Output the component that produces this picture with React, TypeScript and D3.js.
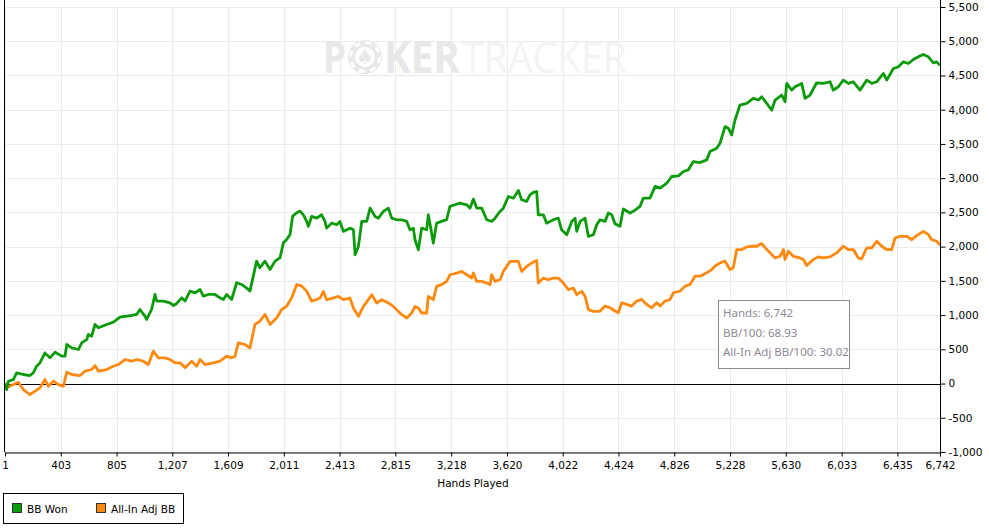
import React, { useEffect, useRef } from "react";
import * as d3 from "d3";

// axis tick values
const handTicks = [1, 403, 805, 1207, 1609, 2011, 2413, 2815, 3218, 3620, 4022, 4424, 4826, 5228, 5630, 6033, 6435, 6742];
const bbTicks = [-1000, -500, 0, 500, 1000, 1500, 2000, 2500, 3000, 3500, 4000, 4500, 5000, 5500];

// BB Won series
const bbWonHands = [
  1, 13, 25, 61, 85, 133, 181, 205, 229, 253, 289, 325, 362, 410, 434, 446, 482, 530, 554, 590,
  602, 626, 650, 674, 734, 782, 830, 878, 914, 950, 974, 1010, 1022, 1058, 1082, 1095, 1143, 1191, 1215, 1239,
  1275, 1299, 1335, 1371, 1407, 1431, 1467, 1515, 1551, 1575, 1599, 1635, 1671, 1707, 1755, 1767, 1791, 1815, 1839, 1875,
  1912, 1948, 1984, 2008, 2032, 2056, 2075, 2104, 2128, 2152, 2176, 2188, 2212, 2248, 2284, 2308, 2320, 2356, 2392, 2416,
  2440, 2488, 2513, 2525, 2549, 2573, 2609, 2633, 2669, 2693, 2729, 2765, 2789, 2825, 2861, 2897, 2921, 2945, 2957, 2981,
  3005, 3041, 3053, 3077, 3089, 3113, 3149, 3185, 3209, 3245, 3281, 3330, 3354, 3378, 3402, 3438, 3474, 3510, 3534, 3570,
  3594, 3630, 3666, 3702, 3726, 3762, 3786, 3810, 3834, 3846, 3882, 3906, 3954, 3990, 4014, 4051, 4087, 4111, 4123, 4147,
  4183, 4207, 4243, 4267, 4291, 4327, 4351, 4375, 4399, 4435, 4459, 4507, 4531, 4579, 4603, 4651, 4688, 4724, 4772, 4808,
  4856, 4892, 4928, 4964, 5012, 5060, 5084, 5132, 5156, 5192, 5216, 5240, 5264, 5300, 5348, 5396, 5433, 5457, 5493, 5529,
  5553, 5601, 5625, 5637, 5673, 5697, 5745, 5769, 5805, 5853, 5901, 5949, 5973, 6009, 6045, 6081, 6117, 6165, 6214, 6250,
  6286, 6334, 6358, 6406, 6442, 6478, 6514, 6550, 6586, 6622, 6658, 6694, 6718, 6742,
];
const bbWon = [
  0, -88, 34, 58, 156, 132, 117, 156, 253, 302, 448, 375, 458, 400, 400, 570, 521, 497, 595, 643,
  716, 692, 863, 814, 863, 897, 970, 984, 994, 1009, 1082, 984, 936, 1082, 1301, 1204, 1204, 1179, 1140, 1170,
  1252, 1204, 1350, 1325, 1374, 1277, 1301, 1301, 1252, 1228, 1301, 1228, 1472, 1447, 1374, 1350, 1569, 1788, 1691, 1788,
  1667, 1788, 1837, 2056, 2105, 2178, 2446, 2495, 2519, 2465, 2368, 2295, 2441, 2416, 2465, 2368, 2270, 2343, 2319, 2368,
  2222, 2270, 2246, 1881, 2003, 2368, 2368, 2562, 2441, 2416, 2514, 2562, 2416, 2392, 2392, 2368, 2246, 2270, 2100, 1954,
  2270, 2246, 2465, 2197, 2052, 2343, 2368, 2392, 2587, 2611, 2635, 2611, 2562, 2694, 2562, 2562, 2392, 2368, 2416, 2514,
  2562, 2732, 2708, 2820, 2684, 2660, 2757, 2791, 2805, 2465, 2465, 2343, 2392, 2416, 2246, 2173, 2368, 2416, 2222, 2368,
  2416, 2149, 2173, 2319, 2393, 2369, 2490, 2466, 2335, 2296, 2549, 2490, 2515, 2588, 2709, 2709, 2879, 2855, 2927, 3024,
  3034, 3097, 3122, 3243, 3228, 3267, 3388, 3437, 3510, 3753, 3728, 3631, 3850, 4068, 4092, 4165, 4141, 4189, 4092, 3995,
  4141, 4214, 4117, 4384, 4286, 4335, 4384, 4165, 4214, 4393, 4384, 4408, 4286, 4335, 4432, 4384, 4408, 4286, 4432, 4384,
  4408, 4529, 4432, 4602, 4626, 4699, 4675, 4733, 4772, 4806, 4772, 4684, 4699, 4647,
];

// All-In Adj BB series
const adjHands = [
  1, 25, 61, 97, 133, 181, 217, 253, 289, 313, 350, 386, 422, 446, 482, 542, 578, 626, 650, 674,
  734, 782, 818, 866, 914, 950, 998, 1034, 1070, 1107, 1155, 1191, 1227, 1263, 1299, 1347, 1383, 1407, 1443, 1503,
  1551, 1599, 1635, 1659, 1683, 1731, 1767, 1803, 1839, 1875, 1912, 1960, 1996, 2032, 2068, 2104, 2140, 2176, 2212, 2248,
  2272, 2296, 2320, 2368, 2404, 2440, 2488, 2513, 2549, 2585, 2621, 2645, 2681, 2717, 2765, 2801, 2849, 2897, 2933, 2957,
  2981, 3005, 3041, 3053, 3089, 3113, 3149, 3185, 3209, 3257, 3294, 3330, 3366, 3378, 3402, 3438, 3474, 3498, 3510, 3534,
  3570, 3594, 3618, 3642, 3678, 3702, 3726, 3762, 3798, 3834, 3846, 3882, 3918, 3954, 3990, 4026, 4063, 4099, 4123, 4159,
  4183, 4207, 4243, 4279, 4291, 4327, 4363, 4399, 4423, 4447, 4483, 4519, 4555, 4591, 4627, 4663, 4700, 4724, 4760, 4796,
  4820, 4868, 4904, 4940, 4976, 5012, 5060, 5096, 5120, 5156, 5192, 5228, 5252, 5276, 5312, 5348, 5384, 5421, 5457, 5493,
  5529, 5553, 5589, 5613, 5625, 5649, 5685, 5733, 5757, 5781, 5829, 5865, 5901, 5949, 5997, 6045, 6081, 6117, 6153, 6177,
  6214, 6250, 6286, 6322, 6358, 6394, 6418, 6454, 6502, 6538, 6574, 6622, 6658, 6682, 6718, 6742,
];
const adjBB = [
  0, -49, -15, 19, -88, -161, -112, -63, 58, -39, 34, -15, -39, 166, 132, 117, 180, 205, 263, 180,
  205, 253, 278, 351, 326, 351, 326, 278, 473, 375, 375, 351, 302, 302, 229, 326, 253, 351, 278, 302,
  326, 400, 375, 400, 595, 570, 521, 863, 911, 1009, 863, 960, 1082, 1131, 1252, 1447, 1423, 1350, 1204, 1228,
  1249, 1346, 1225, 1249, 1273, 1225, 1249, 1103, 981, 1127, 1225, 1298, 1176, 1225, 1176, 1127, 1030, 957, 1030, 1127,
  1103, 1030, 1030, 1273, 1225, 1419, 1444, 1492, 1589, 1614, 1638, 1589, 1541, 1614, 1492, 1492, 1468, 1444, 1589, 1492,
  1516, 1638, 1711, 1784, 1784, 1784, 1638, 1711, 1760, 1799, 1468, 1541, 1516, 1541, 1541, 1468, 1371, 1395, 1298, 1346,
  1273, 1079, 1054, 1054, 1059, 1131, 1107, 1059, 1034, 1180, 1156, 1131, 1204, 1228, 1156, 1107, 1180, 1131, 1204, 1228,
  1326, 1350, 1423, 1447, 1568, 1568, 1617, 1665, 1714, 1762, 1787, 1665, 1690, 1957, 1957, 1995, 2005, 2005, 2044, 1957,
  1884, 1835, 1859, 1957, 1811, 1932, 1859, 1835, 1811, 1724, 1811, 1850, 1835, 1850, 1908, 2005, 1957, 1957, 1835, 1821,
  1981, 1981, 2078, 2005, 1957, 1957, 2126, 2151, 2151, 2102, 2160, 2223, 2175, 2102, 2078, 2024,
];

const seriesNames = ["BB Won", "All-In Adj BB"];
const seriesColors = ["#0a9a0a", "#ff880f"];
const summaryLines = ["Hands: 6,742", "BB/100: 68.93", "All-In Adj BB/100: 30.02"];

const W = 989;
const H = 531;
const AXIS_FONT = "'DejaVu Sans', Verdana, sans-serif";

const App: React.FC = () => {
  const svgRef = useRef<SVGSVGElement>(null);

  useEffect(() => {
    const svg = d3.select(svgRef.current);
    svg.selectAll("*").remove();

    const left = 5;
    const right = 940;
    const top = 7;
    const bottom = 452;

    const x = d3.scaleLinear().domain([1, 6742]).range([left, right]);
    const y = d3.scaleLinear().domain([-1000, 5500]).range([bottom, top]);
    const fmt = (d: number) => d3.format(",")(d).replace("\u2212", "-");

    svg.append("rect").attr("width", W).attr("height", H).attr("fill", "#fff");

    // grid
    const grid = svg.append("g").attr("stroke", "#ebebeb").attr("stroke-width", 1);
    grid
      .selectAll("line.h")
      .data(bbTicks)
      .enter()
      .append("line")
      .attr("x1", left)
      .attr("x2", right)
      .attr("y1", (d) => Math.round(y(d)) + 0.5)
      .attr("y2", (d) => Math.round(y(d)) + 0.5);
    grid
      .selectAll("line.v")
      .data(handTicks)
      .enter()
      .append("line")
      .attr("x1", (d) => Math.round(x(d)) + 0.5)
      .attr("x2", (d) => Math.round(x(d)) + 0.5)
      .attr("y1", top)
      .attr("y2", bottom);

    // watermark
    const wm = svg.append("g").attr("font-family", "'Open Sans', 'Noto Sans', sans-serif");
    wm.append("text")
      .attr("x", 323)
      .attr("y", 73)
      .attr("font-size", 44)
      .attr("font-weight", 700)
      .attr("fill", "#e8e8e8")
      .attr("textLength", 23)
      .attr("lengthAdjust", "spacingAndGlyphs")
      .text("P");
    wm.append("circle").attr("cx", 365).attr("cy", 57).attr("r", 17).attr("fill", "#e8e8e8");
    wm.append("circle")
      .attr("cx", 365)
      .attr("cy", 57)
      .attr("r", 14.5)
      .attr("fill", "none")
      .attr("stroke", "#fff")
      .attr("stroke-width", 3)
      .attr("stroke-dasharray", "6 5.4");
    wm.append("circle").attr("cx", 365).attr("cy", 57).attr("r", 10).attr("fill", "#fff");
    wm.append("text")
      .attr("x", 365)
      .attr("y", 64)
      .attr("text-anchor", "middle")
      .attr("font-size", 20)
      .attr("fill", "#e8e8e8")
      .attr("font-family", "'DejaVu Sans', sans-serif")
      .text("\u2660");
    wm.append("text")
      .attr("x", 384)
      .attr("y", 73)
      .attr("font-size", 44)
      .attr("font-weight", 700)
      .attr("fill", "#e8e8e8")
      .attr("textLength", 76)
      .attr("lengthAdjust", "spacingAndGlyphs")
      .text("KER");
    wm.append("text")
      .attr("x", 462)
      .attr("y", 73)
      .attr("font-size", 44)
      .attr("font-weight", 400)
      .attr("fill", "#f3f3f3")
      .attr("textLength", 165)
      .attr("lengthAdjust", "spacingAndGlyphs")
      .text("TRACKER");

    // zero line
    svg
      .append("line")
      .attr("x1", left)
      .attr("x2", right)
      .attr("y1", Math.round(y(0)) + 0.5)
      .attr("y2", Math.round(y(0)) + 0.5)
      .attr("stroke", "#000");

    // series: orange drawn first so green sits on top
    const series = [
      { hands: adjHands, values: adjBB, color: seriesColors[1] },
      { hands: bbWonHands, values: bbWon, color: seriesColors[0] },
    ];
    const line = d3
      .line<[number, number]>()
      .x((d) => x(d[0]))
      .y((d) => y(d[1]));
    series.forEach((s) => {
      const pts: [number, number][] = s.hands.map((h, i) => [h, s.values[i]]);
      svg
        .append("path")
        .datum(pts)
        .attr("d", line)
        .attr("fill", "none")
        .attr("stroke", s.color)
        .attr("stroke-width", 2.8)
        .attr("stroke-linejoin", "round");
    });

    // left border
    svg
      .append("line")
      .attr("x1", 4.5)
      .attr("x2", 4.5)
      .attr("y1", 0)
      .attr("y2", bottom)
      .attr("stroke", "#000");

    // bottom axis
    const xAxis = svg
      .append("g")
      .attr("transform", `translate(0,${Math.round(bottom) + 0.5})`)
      .call(d3.axisBottom(x).tickValues(handTicks).tickFormat((d) => fmt(+d)).tickSize(4).tickSizeOuter(0));
    xAxis.select(".domain").attr("stroke", "#000");
    xAxis.selectAll("text").attr("font-family", AXIS_FONT).attr("font-size", 10.5).attr("fill", "#000").attr("dy", "0.95em");

    // right axis
    const yAxis = svg
      .append("g")
      .attr("transform", `translate(${right + 0.5},0)`)
      .call(d3.axisRight(y).tickValues(bbTicks).tickFormat((d) => fmt(+d)).tickSize(5).tickSizeOuter(0));
    yAxis.select(".domain").remove();
    yAxis.selectAll("text").attr("font-family", AXIS_FONT).attr("font-size", 10.5).attr("fill", "#000").attr("x", 8);
    svg
      .append("line")
      .attr("x1", right + 0.5)
      .attr("x2", right + 0.5)
      .attr("y1", 0)
      .attr("y2", bottom + 1)
      .attr("stroke", "#000");

    svg
      .append("text")
      .attr("x", 473)
      .attr("y", 487)
      .attr("text-anchor", "middle")
      .attr("font-family", AXIS_FONT)
      .attr("font-size", 10.5)
      .text("Hands Played");

    // summary box
    const box = svg.append("g");
    box
      .append("rect")
      .attr("x", 718.5)
      .attr("y", 300.5)
      .attr("width", 131)
      .attr("height", 68)
      .attr("fill", "#fff")
      .attr("stroke", "#8c8c8c");
    box
      .selectAll("text")
      .data(summaryLines)
      .enter()
      .append("text")
      .attr("x", 723)
      .attr("y", (_, i) => 317 + i * 19.5)
      .attr("font-family", "'Noto Sans', 'Open Sans', sans-serif")
      .attr("font-size", 11.5)
      .attr("fill", "#8e8a94")
      .text((d) => d);

    // legend
    const lg = svg.append("g");
    lg.append("rect")
      .attr("x", 3.5)
      .attr("y", 493.5)
      .attr("width", 180)
      .attr("height", 30)
      .attr("fill", "#fff")
      .attr("stroke", "#000");
    const legendX = [12, 96];
    seriesNames.forEach((name, i) => {
      lg.append("rect")
        .attr("x", legendX[i] + 0.5)
        .attr("y", 503.5)
        .attr("width", 9)
        .attr("height", 9)
        .attr("fill", seriesColors[i])
        .attr("stroke", "#333");
      lg.append("text")
        .attr("x", legendX[i] + 15)
        .attr("y", 512.5)
        .attr("font-family", AXIS_FONT)
        .attr("font-size", 10.5)
        .text(name);
    });
  }, []);

  return (
    <div style={{ position: "absolute", left: 0, top: 0 }}>
      <svg ref={svgRef} width={W} height={H} style={{ display: "block" }}></svg>
    </div>
  );
};

export default App;
